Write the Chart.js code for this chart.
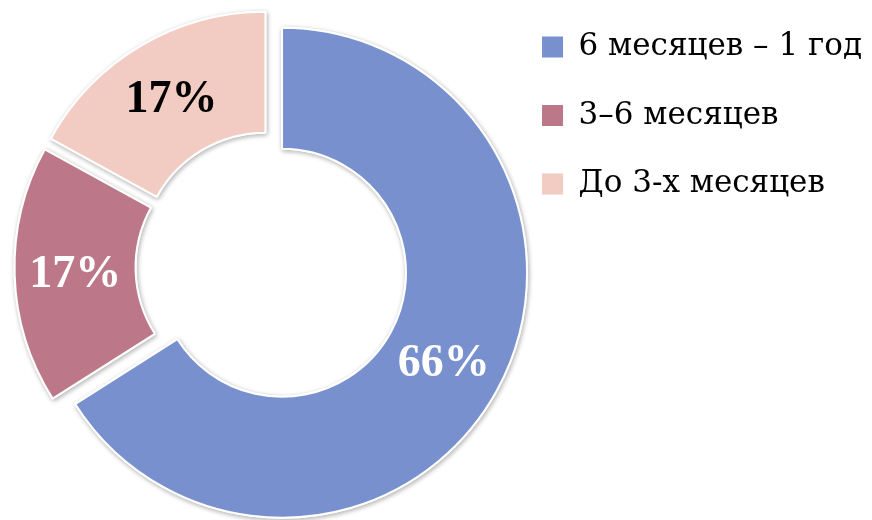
<!DOCTYPE html>
<html>
<head>
<meta charset="utf-8">
<script src="https://cdn.jsdelivr.net/npm/chart.js@4/dist/chart.umd.min.js"></script>
<style>
  html, body { margin: 0; padding: 0; background: #ffffff; }
  #wrap { width: 872px; height: 520px; position: relative; }
</style>
</head>
<body>
<div id="wrap"><canvas id="c" width="872" height="520"></canvas></div>
<script>
// ---- data ----
const categories = ['6 месяцев – 1 год', '3–6 месяцев', 'До 3-х месяцев'];
const values = [66, 17, 17];
const sliceColors = ['#7890CD', '#BC7889', '#F2CCC2'];
const labelColors = ['#ffffff', '#ffffff', '#000000'];
const explodeDist = [12, 12, 12];

// draw each arc of the library, pushed out along its mid-angle, with a soft shadow
const explodePlugin = {
  id: 'explodeArcs',
  beforeDatasetDraw(chart, args) {
    const ctx = chart.ctx;
    const els = args.meta.data;
    for (let pass = 0; pass < 2; pass++) {
      els.forEach((el, i) => {
        const d = explodeDist[i];
        const half = (el.startAngle + el.endAngle) / 2;
        ctx.save();
        ctx.translate(Math.cos(half) * d, Math.sin(half) * d);
        if (pass === 0) {
          ctx.shadowColor = 'rgba(0,0,0,0.28)';
          ctx.shadowBlur = 5;
          ctx.shadowOffsetX = 1;
          ctx.shadowOffsetY = 1.5;
        }
        el.draw(ctx, chart.chartArea);
        ctx.restore();
      });
    }
    return false;
  },
  afterDatasetsDraw(chart) {
    const ctx = chart.ctx;
    const meta = chart.getDatasetMeta(0);
    const total = values.reduce((a, b) => a + b, 0);
    meta.data.forEach((el, i) => {
      const half = (el.startAngle + el.endAngle) / 2;
      const r = (el.innerRadius + el.outerRadius) / 2 + explodeDist[i];
      const x = el.x + Math.cos(half) * r;
      const y = el.y + Math.sin(half) * r;
      ctx.save();
      ctx.font = 'bold 46px "Liberation Serif", serif';
      ctx.fillStyle = labelColors[i];
      ctx.textAlign = 'center';
      ctx.textBaseline = 'middle';
      ctx.fillText(Math.round(values[i] / total * 100) + '%', x, y + 2);
      ctx.restore();
    });
  }
};

const chart = new Chart(document.getElementById('c'), {
  type: 'doughnut',
  data: {
    labels: categories,
    datasets: [{
      data: values,
      backgroundColor: sliceColors,
      borderColor: '#ffffff',
      borderWidth: 2,
      radius: 245,
      cutout: '50.6%'
    }]
  },
  options: {
    responsive: false,
    animation: false,
    layout: { padding: { left: 18.5, right: 0, top: 14, bottom: 0 } },
    plugins: {
      tooltip: { enabled: false },
      legend: {
        position: 'right',
        align: 'start',
        labels: {
          boxWidth: 21,
          boxHeight: 21,
          padding: 17.5,
          color: '#000000',
          font: { family: '"DejaVu Serif", serif', size: 31, lineHeight: '51px' },
          generateLabels(ch) {
            return Chart.overrides.doughnut.plugins.legend.labels.generateLabels(ch)
              .map(l => Object.assign(l, { text: [l.text], lineWidth: 0, strokeStyle: 'rgba(0,0,0,0)' }));
          }
        }
      }
    }
  },
  plugins: [explodePlugin]
});
// place the legend so that the chart area ends near x = 526
chart.options.layout.padding.right = Math.max(0, 872 - 526.5 - chart.legend.width);
chart.update();
</script>
</body>
</html>
